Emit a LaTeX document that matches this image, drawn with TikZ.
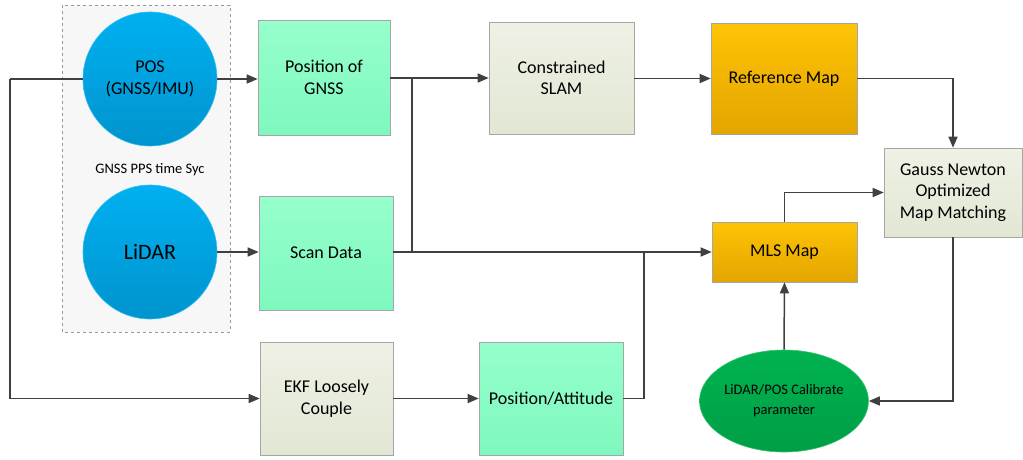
\documentclass[tikz,border=0pt]{standalone}
\usepackage{fontspec}
\setmainfont{Carlito}
\usetikzlibrary{arrows.meta,shadows,shapes.geometric}

\definecolor{mintTop}{HTML}{96FFCC}
\definecolor{mintBot}{HTML}{7EF8BE}
\definecolor{sageTop}{HTML}{EEF1E4}
\definecolor{sageBot}{HTML}{E2E7D4}
\definecolor{ambTop}{HTML}{FFC305}
\definecolor{ambBot}{HTML}{E3A500}
\definecolor{skyTop}{HTML}{00B0F0}
\definecolor{skyBot}{HTML}{0094CE}
\definecolor{leafTop}{HTML}{00B350}
\definecolor{leafBot}{HTML}{009E45}
\definecolor{wire}{HTML}{404040}

\begin{document}
\begin{tikzpicture}[x=1pt, y=-1pt,
    boxbase/.style={draw=gray!70, line width=0.6pt, align=center, font=\fontsize{18}{21.6}\selectfont,
      drop shadow={opacity=0.25, shadow xshift=1.2pt, shadow yshift=-1.2pt}},
    greenbox/.style={boxbase, top color=mintTop, bottom color=mintBot},
    beigebox/.style={boxbase, top color=sageTop, bottom color=sageBot},
    orangebox/.style={boxbase, top color=ambTop, bottom color=ambBot},
    bluecircle/.style={circle, draw=skyTop!80!white, line width=0.6pt, top color=skyTop, bottom color=skyBot,
      minimum size=134pt, inner sep=0pt, align=center},
    arr/.style={-{Triangle[length=11pt,width=9pt]}, draw=wire, line width=1.5pt},
    wireline/.style={draw=wire, line width=1.5pt}]

  \useasboundingbox (0,0) rectangle (1023,459);

  % sync frame round the two sensors
  \draw[dashed, draw=gray!80, fill=gray!6, line width=0.6pt] (62,5) rectangle (230,332);

  % sensors
  \node[bluecircle, font=\fontsize{18}{21.6}\selectfont] (pos) at (150,79) {POS\\(GNSS/IMU)};
  \node[bluecircle, font=\fontsize{22}{26}\selectfont] (lidar) at (150,252) {LiDAR};
  \node[font=\fontsize{14.5}{17}\selectfont] (sync) at (150,170) {GNSS PPS time Syc};

  % processing blocks
  \node[greenbox, minimum width=132pt, minimum height=115pt] (gnss) at (324,77.5) {Position of\\GNSS};
  \node[greenbox, minimum width=134pt, minimum height=114pt] (scan) at (326,253) {Scan Data};
  \node[beigebox, minimum width=133pt, minimum height=113pt] (ekf) at (326.5,398.5) {EKF Loosely\\Couple};
  \node[greenbox, minimum width=144pt, minimum height=113pt] (att) at (551,398.5) {Position/Attitude};
  \node[beigebox, minimum width=145pt, minimum height=112pt] (slam) at (561.5,78) {Constrained\\SLAM};
  \node[orangebox, minimum width=146pt, minimum height=111pt] (ref) at (784,78.5) {Reference Map};
  \node[orangebox, minimum width=145pt, minimum height=60pt] (mls) at (784.5,252) {MLS Map};
  \node[beigebox, minimum width=138pt, minimum height=89pt] (gauss) at (953,192.5) {Gauss Newton\\Optimized\\Map Matching};
  \node[ellipse, draw=leafTop!80!white, line width=0.6pt, top color=leafTop, bottom color=leafBot,
    minimum width=158pt, minimum height=102pt, inner sep=0pt, align=center,
    font=\fontsize{14.5}{20}\selectfont] (calib) at (784,401) {LiDAR/POS Calibrate\\parameter};

  % junction points
  \coordinate (lft) at (10,79);
  \coordinate (jnA) at (412,252);
  \coordinate (jnB) at (644,252);

  % connectors
  \draw[arr] (pos.east) -- (pos.east -| gnss.west);
  \draw[arr] (lidar.east) -- (lidar.east -| scan.west);
  \draw[wireline] (pos.west) -- (lft);
  \draw[arr] (lft) |- (ekf.west);
  \draw[arr] (gnss.east |- slam.west) -- (slam.west);
  \draw[wireline] (jnA) -- (jnA |- slam.west);
  \draw[arr] (scan.east |- mls.west) -- (mls.west);
  \draw[arr] (ekf.east |- att.west) -- (att.west);
  \draw[wireline] (att.east) -| (jnB);
  \draw[arr] (slam.east |- ref.west) -- (ref.west);
  \draw[arr] (ref.east) -| (gauss.north);
  \draw[arr] (mls.north) |- (gauss.west);
  \draw[arr] (gauss.south) |- (calib.east);
  \draw[arr] (calib.north) -- (mls.south);

\end{tikzpicture}
\end{document}
